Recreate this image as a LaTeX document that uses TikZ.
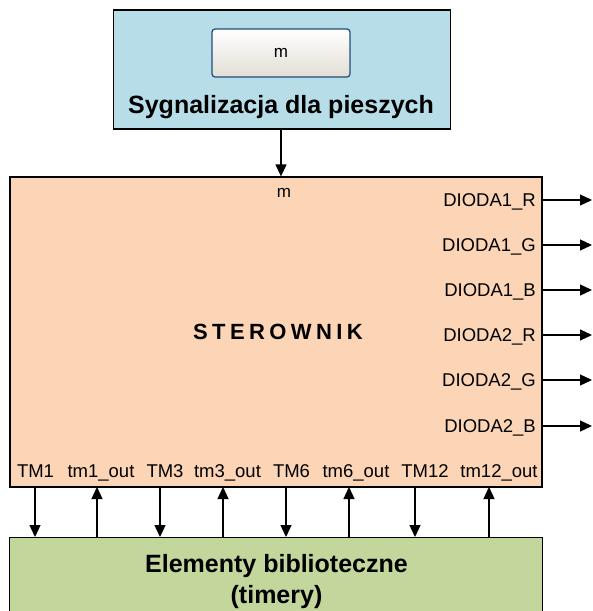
\documentclass[tikz,border=0pt]{standalone}
\usepackage{fontspec}
\setmainfont{Liberation Sans}
\newfontfamily\trackedfont[LetterSpace=20]{Liberation Sans}
\usetikzlibrary{arrows.meta}
\definecolor{panelblue}{HTML}{B7DDE8}
\definecolor{ctrlpeach}{HTML}{FBD5B5}
\definecolor{libgreen}{HTML}{C3D69B}
\definecolor{btnedge}{HTML}{1F4E79}
\definecolor{btnlow}{HTML}{E2DED5}

\begin{document}
\begin{tikzpicture}[x=1pt,y=-1pt,
  block/.style={draw=black, line width=1.3pt, inner sep=0pt},
  sig/.style={-{Triangle[length=12pt,width=11pt]}, line width=1.3pt},
  port/.style={font=\fontsize{18.5}{20}\selectfont, inner sep=0pt},
  title/.style={font=\fontsize{25}{31}\selectfont\bfseries, inner sep=0pt, align=center}]

\useasboundingbox (0,0) rectangle (593,611);

% pedestrian signalling panel with its push button
\node (panel) [block, fill=panelblue, minimum width=337pt, minimum height=119pt] at (282,69.5) {};
\node (button) [draw=btnedge, line width=1.2pt, rounded corners=3pt, top color=white, bottom color=btnlow,
  minimum width=138pt, minimum height=48pt, font=\fontsize{17}{19}\selectfont] at (281,53) {m};
\node (paneltitle) [title, anchor=base] at (281,113) {Sygnalizacja dla pieszych};

% controller
\node (ctrl) [block, fill=ctrlpeach, minimum width=532pt, minimum height=310pt] at (276,332) {};
\node (ctrlname) [inner sep=0pt, anchor=base, font=\trackedfont\bfseries\fontsize{22}{25}\selectfont] at (278,339) {STEROWNIK};
\node (min) [inner sep=0pt, anchor=base, font=\fontsize{17}{19}\selectfont] at (284,197) {m};

% timer library
\node (lib) [block, fill=libgreen, minimum width=533pt, minimum height=90pt, anchor=north west] at (9,537) {};
\node (libtitle) [title, anchor=base] at (276.5,572) {Elementy biblioteczne};
\node (libsub) [title, anchor=base] at (276.5,603) {(timery)};

% button signal into the controller
\draw[sig] (panel.south -| button.south) -- (button.south |- ctrl.north);

% LED outputs on the right
\foreach \nm/\lbl/\yy in {d1r/DIODA1\_R/200, d1g/DIODA1\_G/245, d1b/DIODA1\_B/290,
                         d2r/DIODA2\_R/335, d2g/DIODA2\_G/380, d2b/DIODA2\_B/426} {
  \node (\nm) [port, anchor=base east] at (536,\yy+6.5) {\lbl};
  \coordinate (\nm-end) at (592,\yy);
  \draw[sig] (ctrl.east |- \nm-end) -- (\nm-end);
}

% timer ports along the bottom edge
\foreach \nm/\lbl/\lx in {tma/TM1/35.5, tmaout/tm1\_out/101, tmb/TM3/165, tmbout/tm3\_out/227.5,
                         tmc/TM6/291.5, tmcout/tm6\_out/356, tmd/TM12/425, tmdout/tm12\_out/499} {
  \node (\nm) [port, anchor=base] at (\lx,477) {\lbl};
}

% timer starts go down, timer outputs come back up
\foreach \nm/\px in {tma/35, tmb/160, tmc/286, tmd/415} {
  \coordinate (\nm-pin) at (\px,487);
  \draw[sig] (\nm-pin) -- (\nm-pin |- lib.north);
}
\foreach \nm/\px in {tmaout/97, tmbout/223, tmcout/349, tmdout/489} {
  \coordinate (\nm-pin) at (\px,487);
  \draw[sig] (\nm-pin |- lib.north) -- (\nm-pin);
}
\end{tikzpicture}
\end{document}
